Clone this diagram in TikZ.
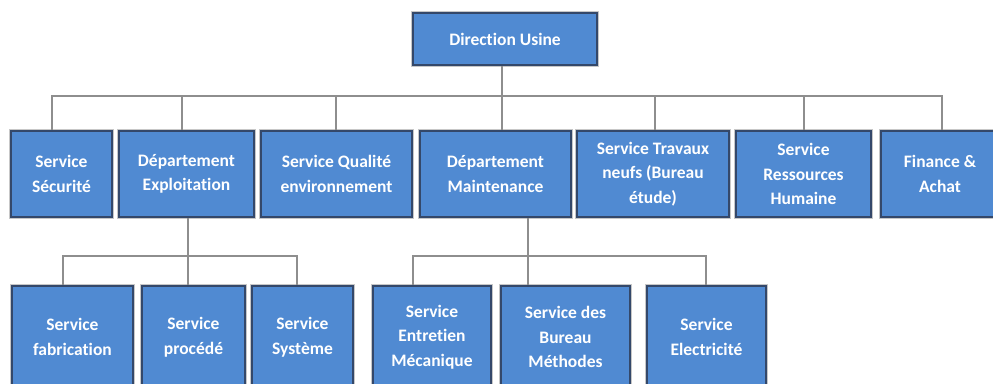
\documentclass[tikz,border=0pt]{standalone}
\usepackage{fontspec}
\setmainfont{Carlito}[Ligatures=NoCommon]
\usepackage{tikz}
\usetikzlibrary{calc,positioning}
\definecolor{boxc}{HTML}{508AD2}
\definecolor{edgec}{HTML}{34486A}
\definecolor{linkc}{HTML}{8E8E8E}
\tikzset{
  unit/.style={fill=boxc,draw=edgec,line width=1.6pt,text=white,align=center,inner sep=2pt,
    font=\fontsize{17.5}{24.5}\selectfont\bfseries,
    preaction={draw=black!22,line width=4pt}},
  link/.style={linkc,line width=2.2pt}
}
\begin{document}
\begin{tikzpicture}[x=1pt,y=-1pt]
\useasboundingbox (0,0) rectangle (993,383);
\begin{scope}
\clip (0,0) rectangle (993,383);
% direction
\node[unit,minimum width=184pt,minimum height=52pt] (dir) at (505,39) {Direction Usine};
% first row
\node[unit,minimum width=101pt,minimum height=86pt] (secu) at (61.5,174) {Service\\Sécurité};
\node[unit,minimum width=135pt,minimum height=86pt] (expl) at (186.5,174) {Département\\Exploitation};
\node[unit,minimum width=151pt,minimum height=86pt] (qual) at (336.5,174) {Service Qualité\\environnement};
\node[unit,minimum width=151pt,minimum height=86pt] (maint) at (495.5,174) {Département\\Maintenance};
\node[unit,minimum width=152pt,minimum height=86pt] (trav) at (653,174) {Service Travaux\\neufs (Bureau\\étude)};
\node[unit,minimum width=135pt,minimum height=86pt] (rh) at (803.5,174) {Service\\Ressources\\Humaine};
\node[unit,minimum width=118pt,minimum height=86pt] (fin) at (940,174) {Finance \&\\Achat};
% second row
\node[unit,minimum width=121pt,minimum height=102pt] (fab) at (72.5,337) {Service\\fabrication};
\node[unit,minimum width=103pt,minimum height=102pt] (proc) at (193.5,337) {Service\\procédé};
\node[unit,minimum width=101pt,minimum height=102pt] (sys) at (302.5,337) {Service\\Système};
\node[unit,minimum width=118pt,minimum height=102pt] (meca) at (432,337) {Service\\Entretien\\Mécanique};
\node[unit,minimum width=129pt,minimum height=102pt] (meth) at (565.5,337) {Service des\\Bureau\\Méthodes};
\node[unit,minimum width=119pt,minimum height=102pt] (elec) at (706.5,337) {Service\\Electricité};
\end{scope}
% links
\draw[link] ([xshift=-3pt]dir.south) -- ++(0,30) coordinate (bus0);
\foreach \n/\d in {secu/-9.5,expl/-4.5,qual/-0.5,maint/6.5,trav/2,rh/0.5,fin/2}
  \draw[link] (bus0) -| ([xshift=\d pt]\n.north);
\draw[link] ([xshift=1.5pt]expl.south) -- ++(0,38) coordinate (bus1);
\foreach \n/\d in {fab/-9.5,proc/-5.5,sys/-5.5}
  \draw[link] (bus1) -| ([xshift=\d pt]\n.north);
\draw[link] ([xshift=32.5pt]maint.south) -- ++(0,38) coordinate (bus2);
\foreach \n/\d in {meca/-19,meth/-37.5,elec/-0.5}
  \draw[link] (bus2) -| ([xshift=\d pt]\n.north);
\end{tikzpicture}
\end{document}
